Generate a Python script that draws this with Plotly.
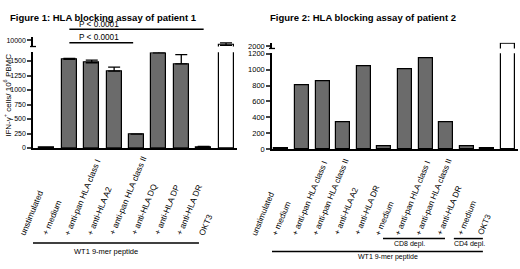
import plotly.graph_objects as go

# ---------------- data ----------------
left_labels = ["unstimulated", "+ medium", "+ anti-pan HLA class I", "+ anti-HLA A2",
               "+ anti-pan HLA class II", "+ anti-HLA DQ", "+ anti-HLA DP", "+ anti-HLA DR", "OKT3"]
left_values = [5, 1530, 1470, 1325, 240, 1640, 1450, 20, 9800]
left_errors = [0, 15, 45, 70, 0, 40, 160, 10, 100]
left_ticks_low = [0, 250, 500, 750, 1000, 1250, 1500]
left_ticks_high = [10000]

right_labels = ["unstimulated", "+ medium", "+ anti-pan HLA class I", "+ anti-pan HLA class II",
                "+ anti-HLA A2", "+ anti-HLA DR", "+ medium", "+ anti-pan HLA class I",
                "+ anti-pan HLA class II", "+ anti-HLA DR", "+ medium", "OKT3"]
right_values = [5, 800, 850, 335, 1040, 40, 1010, 1145, 335, 40, 5, 2040]
right_ticks_low = [0, 200, 400, 600, 800, 1000, 1200]
right_ticks_high = [2000]

titles = ["Figure 1: HLA blocking assay of patient 1", "Figure 2: HLA blocking assay of patient 2"]
p_label = "P < 0.0001"
group_wt1 = "WT1 9-mer peptide"
group_cd8 = "CD8 depl."
group_cd4 = "CD4 depl."
y_title = "IFN-γ<sup>+</sup> cells/ 10<sup>6</sup> PBMC"

# ---------------- layout helpers ----------------
W, H = 520, 269
FONT = "Arial, Liberation Sans, sans-serif"
GRAY = "#6b6b6b"

def px_x(p):
    return p / W

def px_y(p):
    return (H - p) / H

def colors(vals, last_white=True):
    c = [GRAY] * len(vals)
    if last_white:
        c[-1] = "white"
    return c

lx = list(range(len(left_values)))
rx = list(range(len(right_values)))

fig = go.Figure()

# left lower
fig.add_trace(go.Bar(x=lx, y=left_values, width=0.67, marker=dict(color=colors(left_values),
                     line=dict(color="black", width=1.2)),
                     error_y=dict(type="data", array=left_errors, arrayminus=[0]*len(left_errors),
                                  symmetric=False, color="black", thickness=1.3, width=6),
                     xaxis="x", yaxis="y", showlegend=False))
# left upper (OKT3 top)
fig.add_trace(go.Bar(x=[lx[-1]], y=[left_values[-1]], width=0.67,
                     marker=dict(color="white", line=dict(color="black", width=1.2)),
                     error_y=dict(type="data", array=[left_errors[-1]], arrayminus=[0],
                                  symmetric=False, color="black", thickness=1.3, width=6),
                     xaxis="x", yaxis="y2", showlegend=False))
# right lower
fig.add_trace(go.Bar(x=rx, y=right_values, width=0.68, marker=dict(color=colors(right_values),
                     line=dict(color="black", width=1.2)),
                     xaxis="x2", yaxis="y3", showlegend=False))
# right upper
fig.add_trace(go.Bar(x=[rx[-1]], y=[right_values[-1]], width=0.68,
                     marker=dict(color="white", line=dict(color="black", width=1.2)),
                     xaxis="x2", yaxis="y4", showlegend=False))

axis_common = dict(showline=True, linecolor="black", linewidth=1.5, showgrid=False, zeroline=False)
ytick = dict(ticks="outside", ticklen=4, tickwidth=1.5, tickformat="d")

fig.update_layout(
    width=W, height=H, autosize=False,
    margin=dict(l=0, r=0, t=0, b=0),
    paper_bgcolor="white", plot_bgcolor="white",
    font=dict(family=FONT, color="black"),
    bargap=0,
    xaxis=dict(domain=[px_x(33), px_x(237)], range=[-0.625, 8.49], anchor="y",
               showticklabels=False, ticks="", **axis_common),
    yaxis=dict(domain=[px_y(149), px_y(50)], range=[0, 1650], anchor="x",
               tickvals=left_ticks_low, tickfont=dict(size=7, family=FONT), **ytick, **axis_common),
    yaxis2=dict(domain=[px_y(44), px_y(34)], range=[9750, 10150], anchor="x",
                tickvals=left_ticks_high, tickfont=dict(size=7, family=FONT), **ytick, **axis_common),
    xaxis2=dict(domain=[px_x(272), px_x(518)], range=[-0.46, 11.485], anchor="y3",
                showticklabels=False, ticks="", **axis_common),
    yaxis3=dict(domain=[px_y(150), px_y(51)], range=[0, 1207], anchor="x2",
                tickvals=right_ticks_low, tickfont=dict(size=7.5, family=FONT), **ytick, **axis_common),
    yaxis4=dict(domain=[px_y(46), px_y(40)], range=[1960, 2060], anchor="x2",
                tickvals=right_ticks_high, tickfont=dict(size=7.5, family=FONT), **ytick, **axis_common),
)

ann = []
shapes = []

# titles
ann.append(dict(text="<b>" + titles[0] + "</b>", x=px_x(8), y=px_y(14), xref="paper", yref="paper",
                xanchor="left", yanchor="middle", showarrow=False, font=dict(size=9.5)))
ann.append(dict(text="<b>" + titles[1] + "</b>", x=px_x(268), y=px_y(14), xref="paper", yref="paper",
                xanchor="left", yanchor="middle", showarrow=False, font=dict(size=9.5)))

# y title
ann.append(dict(text=y_title, x=px_x(7), y=px_y(95), xref="paper", yref="paper", textangle=-90,
                xanchor="center", yanchor="middle", showarrow=False, font=dict(size=8)))

# x labels (start-aligned, rotated)
for i, t in enumerate(left_labels):
    ann.append(dict(text=t, x=lx[i], y=px_y(242), xref="x", yref="paper", textangle=-67.5,
                    xanchor="left", yanchor="bottom", xshift=-31, showarrow=False,
                    font=dict(size=8.4), borderpad=0))
for i, t in enumerate(right_labels):
    ann.append(dict(text=t, x=rx[i], y=px_y(242), xref="x2", yref="paper", textangle=-67.5,
                    xanchor="left", yanchor="bottom", xshift=-33, showarrow=False,
                    font=dict(size=8.2), borderpad=0))

# P-value brackets
for (x0, x1, yl) in [(1, 7, 26), (1, 3.85, 40)]:
    shapes.append(dict(type="line", xref="x", yref="paper", x0=x0, x1=x1,
                       y0=px_y(yl), y1=px_y(yl), line=dict(color="black", width=1.5)))
    ann.append(dict(text=p_label, x=2.32, y=px_y(yl + 0.5), xref="x", yref="paper",
                    xanchor="center", yanchor="bottom", showarrow=False, font=dict(size=8.2),
                    borderpad=0))

# axis-break feet
for (ax_x, yb) in [(33, 44), (272, 46)]:
    shapes.append(dict(type="line", xref="paper", yref="paper", x0=px_x(ax_x - 3), x1=px_x(ax_x + 3),
                       y0=px_y(yb), y1=px_y(yb), line=dict(color="black", width=1.3)))

# group lines
shapes.append(dict(type="line", xref="x", yref="paper", x0=-0.625, x1=6.79,
                   y0=px_y(247.3), y1=px_y(247.3), line=dict(color="black", width=1.5)))
ann.append(dict(text=group_wt1, x=2.63, y=px_y(256.5), xref="x", yref="paper",
                xanchor="center", yanchor="middle", showarrow=False, font=dict(size=7.5)))

shapes.append(dict(type="line", xref="x2", yref="paper", x0=-0.56, x1=9.78,
                   y0=px_y(256), y1=px_y(256), line=dict(color="black", width=1.5)))
ann.append(dict(text=group_wt1, x=5.17, y=px_y(261.5), xref="x2", yref="paper",
                xanchor="center", yanchor="middle", showarrow=False, font=dict(size=7)))

shapes.append(dict(type="line", xref="x2", yref="paper", x0=4.93, x1=7.94,
                   y0=px_y(242.7), y1=px_y(242.7), line=dict(color="black", width=1.5)))
ann.append(dict(text=group_cd8, x=6.24, y=px_y(248.5), xref="x2", yref="paper",
                xanchor="center", yanchor="middle", showarrow=False, font=dict(size=7)))
shapes.append(dict(type="line", xref="x2", yref="paper", x0=8.37, x1=9.78,
                   y0=px_y(242.7), y1=px_y(242.7), line=dict(color="black", width=1.5)))
ann.append(dict(text=group_cd4, x=9.15, y=px_y(248.5), xref="x2", yref="paper",
                xanchor="center", yanchor="middle", showarrow=False, font=dict(size=7)))

fig.update_layout(annotations=ann, shapes=shapes)

fig.write_html("out.html", config={"displayModeBar": False},
               post_script="document.body.style.margin='0';document.body.style.overflow='hidden';")
